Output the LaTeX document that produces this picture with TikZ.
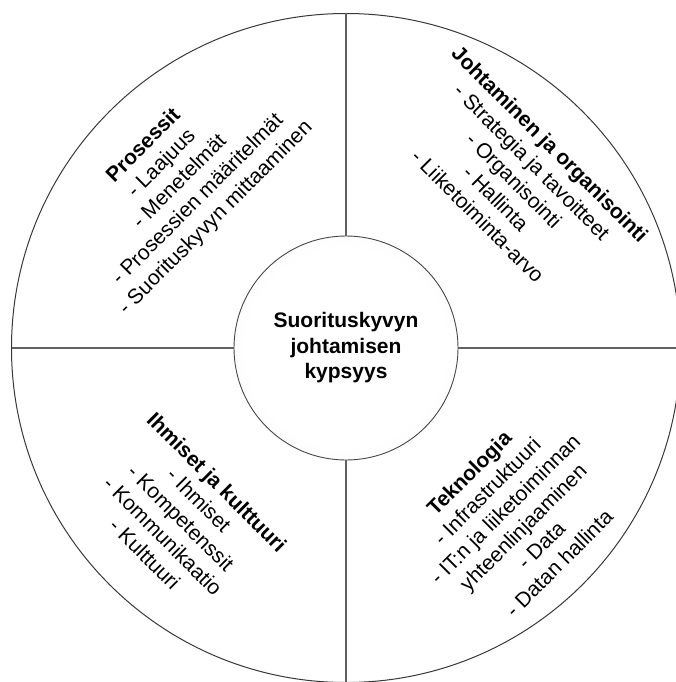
\documentclass[tikz,border=0pt]{standalone}
\usepackage{fontspec}
\setmainfont{Liberation Sans}
% soft glow for the central disc: white core fading to a pale grey rim
\pgfdeclareradialshading{hubglow}{\pgfpoint{0bp}{0bp}}{%
  color(0bp)=(white); color(22bp)=(white); color(50bp)=(black!8); color(100bp)=(black!8)}
\begin{document}
\begin{tikzpicture}[x=1pt,y=-1pt,
    rim/.style={circle, draw=black!78, line width=1pt, minimum size=669pt, inner sep=0pt, outer sep=0pt},
    hub/.style={circle, draw=black!72, line width=0.9pt, minimum size=224pt, inner sep=0pt, outer sep=0pt,
                shading=hubglow, align=center,
                font=\fontsize{21}{25.5}\selectfont\bfseries},
    divider/.style={draw=black!62, line width=1.5pt},
    sector/.style={align=center, font=\fontsize{21}{25.5}\selectfont}]
  \useasboundingbox (0,0) rectangle (676,682);
  \begin{scope}
    \clip (0,0) rectangle (676,682);
    % outer disc and the four dividing spokes
    \node[rim] (outer) at (346,348) {};
    \node[hub] (inner) at (346,348) {Suorituskyvyn\\johtamisen\\kypsyys};
    \draw[divider] (outer.north) -- (inner.north);
    \draw[divider] (inner.south) -- (outer.south);
    \draw[divider] (outer.west) -- (inner.west);
    \draw[divider] (inner.east) -- (outer.east);
  \end{scope}
  % sector texts
  \node[sector, rotate=45] (proc) at (180,182)
    {\textbf{Prosessit}\\- Laajuus\\- Menetelmät\\- Prosessien määritelmät\\- Suorituskyvyn mittaaminen};
  \node[sector, rotate=-45] (lead) at (514,180)
    {\textbf{Johtaminen ja organisointi}\\- Strategia ja tavoitteet\\- Organisointi\\- Hallinta\\- Liiketoiminta-arvo};
  \node[sector, rotate=-45] (people) at (181,518)
    {\textbf{Ihmiset ja kulttuuri}\\- Ihmiset\\- Kompetenssit\\- Kommunikaatio\\- Kulttuuri};
  \node[sector, rotate=45] (tech) at (514,518)
    {\textbf{Teknologia}\\- Infrastruktuuri\\- IT:n ja liiketoiminnan\\yhteenlinjaaminen\\- Data\\- Datan hallinta};
\end{tikzpicture}
\end{document}
